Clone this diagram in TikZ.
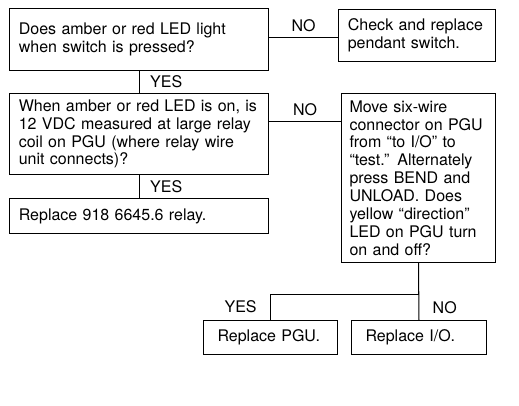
\documentclass[tikz,border=0pt]{standalone}
\usepackage{fontspec}
\setmainfont{TeX Gyre Heros}
\begin{document}
\begin{tikzpicture}[x=0.75pt,y=-0.75pt,line width=0.75pt,
	every node/.style={font=\fontsize{12pt}{13.4pt}\selectfont},
	box/.style={draw, anchor=north west, align=left, inner xsep=7pt, inner ysep=0pt},
	lbl/.style={inner sep=0pt}]

	\useasboundingbox (0,0) rectangle (519,405);

	% questions and actions
	\node[box, minimum height=46.5pt, text width=180.25pt] (led) at (9,8) {Does amber or red LED light\\when switch is pressed?};
	\node[box, minimum height=39pt, text width=103.75pt] (switch) at (338,9) {Check and replace\\pendant switch.};
	\node[box, minimum height=60.75pt, text width=180.25pt] (vdc) at (9,93) {\mbox{When amber or red LED is on, is}\\12 VDC measured at large relay\\coil on PGU (where relay wire\\unit connects)?};
	\node[box, inner xsep=6pt, minimum height=126.75pt, text width=103.5pt] (test) at (341,93) {Move six-wire\\connector on PGU\\from “to I/O” to\\“test.” Alternately\\press BEND and\\UNLOAD. Does\\yellow “direction”\\LED on PGU turn\\on and off?};
	\node[box, minimum height=26.25pt, text width=180.25pt] (relay) at (9,198) {Replace 918 6645.6 relay.};
	\node[box, inner xsep=10.5pt, minimum height=25.5pt, text width=79.5pt] (pgu) at (203,320) {Replace PGU.};
	\node[box, inner xsep=10.5pt, minimum height=25.5pt, text width=80.25pt] (io) at (351,320) {Replace I/O.};

	% NO branches
	\coordinate (no1) at ([yshift=-21.75pt]led.north east);
	\draw (no1) -- (no1 -| switch.west) node[lbl, midway, above=3.5pt] {NO};
	\coordinate (no2) at ([yshift=-21pt]vdc.north east);
	\draw (no2) -- (no2 -| test.west) node[lbl, midway, above=3.5pt] {NO};

	% YES branches
	\draw (led.south) -- (vdc.north) node[lbl, midway, right=8pt] {YES};
	\draw (vdc.south) -- (relay.north) node[lbl, midway, right=8pt] {YES};

	% split under the test box
	\draw (test.south) -- (io.north) node[lbl, pos=0.79, right=10pt] {NO};
	\draw (pgu.north) -- ++(0,-26) node[lbl, midway, left=10pt] {YES} -| (test.south);

\end{tikzpicture}
\end{document}
